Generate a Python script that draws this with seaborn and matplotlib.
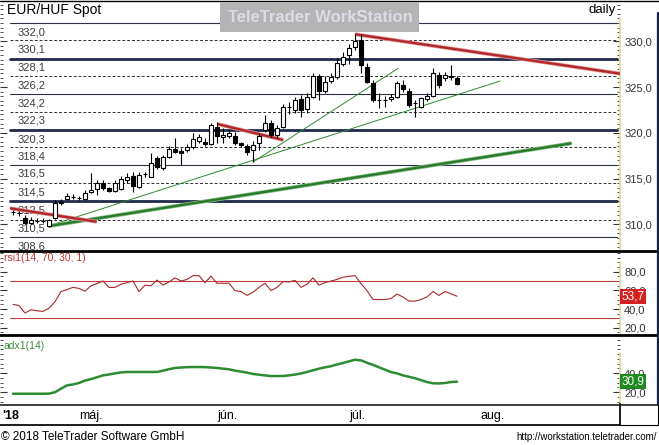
"""EUR/HUF daily chart with RSI and ADX panes, TeleTrader style"""
import numpy as np
import pandas as pd
import seaborn as sns
import matplotlib.pyplot as plt
from matplotlib.patches import Rectangle
from matplotlib.lines import Line2D
from matplotlib.ticker import MultipleLocator, FixedLocator, FuncFormatter

W, H = 659, 445

# daily candles, 16 Apr - 26 Jul 2018 (bar index = trading day)
opens = [311.32, 311.22, 310.73, 310.18, 310.36, 310.40, 309.86, 310.66, 312.40, 312.73,
         313.00, 312.86, 312.73, 313.53, 313.86, 314.51, 313.97, 313.68, 313.86, 314.84,
         315.28, 314.11, 315.47, 315.20, 317.21, 316.12, 317.39, 318.20, 318.04, 318.12,
         318.42, 319.14, 319.03, 318.78, 320.67, 319.57, 319.65, 319.65, 318.85, 318.56,
         318.12, 318.85, 320.31, 321.04, 319.76, 320.67, 322.80, 322.49, 323.66, 322.60,
         323.95, 326.24, 324.57, 325.69, 326.07, 327.49, 328.50, 329.34, 330.14, 327.22,
         325.41, 323.60, 323.58, 323.66, 323.95, 325.22, 324.57, 323.30, 322.85, 323.73,
         324.02, 326.32, 325.96, 326.13, 325.95]
highs = [311.60, 311.45, 311.00, 310.77, 310.70, 310.70, 310.60, 312.66, 312.80, 313.40,
         313.30, 313.10, 313.75, 315.60, 314.84, 314.80, 314.10, 314.80, 315.30, 315.57,
         315.70, 315.70, 315.75, 317.76, 317.50, 317.60, 318.60, 319.43, 318.30, 318.80,
         319.98, 319.90, 319.40, 321.07, 321.18, 320.52, 320.40, 320.09, 319.00, 318.80,
         319.10, 320.00, 321.95, 321.40, 320.80, 323.15, 323.40, 323.90, 324.10, 324.30,
         326.57, 326.40, 326.20, 326.50, 328.20, 328.80, 329.70, 330.77, 330.77, 327.60,
         325.77, 324.30, 324.00, 324.24, 325.69, 325.77, 324.90, 323.60, 323.95, 324.30,
         327.05, 326.64, 326.60, 327.41, 326.20]
lows = [311.05, 310.95, 309.99, 309.99, 310.10, 310.15, 309.75, 310.55, 312.10, 312.66,
        312.80, 312.60, 312.65, 313.40, 313.20, 313.80, 313.50, 313.50, 313.70, 314.50,
        313.56, 314.00, 315.20, 315.17, 316.00, 315.90, 317.20, 317.80, 316.48, 317.90,
        318.20, 318.90, 318.60, 318.67, 318.89, 318.90, 319.40, 318.70, 318.45, 317.57,
        316.84, 318.12, 320.10, 319.50, 319.40, 320.50, 322.10, 322.20, 321.73, 322.16,
        323.80, 323.58, 324.30, 325.40, 325.90, 327.30, 327.50, 329.05, 326.50, 325.44,
        323.37, 322.68, 322.80, 323.47, 323.80, 324.50, 322.80, 321.69, 322.70, 323.50,
        323.90, 324.90, 325.70, 325.80, 325.20]
closes = [311.36, 311.18, 310.18, 310.51, 310.38, 310.36, 310.44, 312.37, 312.37, 313.09,
          313.02, 312.84, 313.45, 313.75, 314.55, 313.93, 313.68, 314.51, 314.95, 315.20,
          314.19, 315.39, 315.52, 316.67, 316.30, 317.39, 318.20, 317.94, 317.83, 318.48,
          319.29, 319.57, 318.74, 320.85, 319.68, 319.76, 320.01, 318.85, 318.67, 317.93,
          318.67, 319.65, 321.04, 319.76, 320.49, 322.85, 322.83, 323.58, 322.49, 323.88,
          326.24, 324.57, 325.58, 326.13, 327.66, 328.32, 329.23, 330.03, 327.41, 325.52,
          323.58, 323.56, 323.55, 323.95, 325.41, 324.75, 323.04, 323.27, 323.77, 324.02,
          326.50, 325.22, 326.32, 326.15, 325.33]

rsi = [45.0, 43.7, 35.8, 39.2, 38.2, 37.5, 40.9, 47.8, 58.7, 60.8,
       63.2, 62.1, 59.1, 64.9, 67.3, 70.0, 63.2, 63.2, 66.6, 68.3,
       70.0, 58.7, 65.6, 64.9, 71.0, 65.6, 69.0, 73.4, 70.0, 71.7,
       75.8, 75.8, 68.3, 75.1, 67.6, 67.6, 67.6, 59.7, 58.7, 54.6,
       58.0, 63.2, 67.6, 59.7, 63.2, 69.3, 69.0, 70.7, 63.2, 66.6,
       73.4, 65.6, 68.3, 70.0, 71.7, 74.1, 75.1, 75.8, 67.3, 59.7,
       50.2, 50.2, 50.2, 51.2, 56.0, 52.9, 48.5, 48.5, 50.2, 52.9,
       58.7, 54.6, 58.7, 56.3, 53.7]
adx = [18.2, 18.2, 18.2, 18.2, 18.2, 18.2, 18.3, 19.8, 23.5, 27.0,
       28.0, 29.5, 32.0, 33.6, 35.5, 37.5, 38.5, 39.6, 40.6, 41.1,
       41.1, 41.1, 41.1, 41.1, 41.1, 42.5, 44.0, 45.3, 45.8, 46.2,
       46.3, 46.3, 46.2, 45.8, 45.3, 44.6, 43.9, 42.5, 41.5, 40.4,
       39.0, 38.2, 37.5, 36.8, 36.8, 36.9, 37.5, 38.4, 39.5, 41.1,
       42.8, 44.6, 46.0, 47.2, 49.0, 50.5, 52.3, 54.0, 53.3, 50.8,
       48.5, 46.0, 43.5, 41.0, 39.6, 37.5, 36.0, 34.5, 32.5, 30.5,
       29.2, 29.0, 29.5, 30.5, 30.9]

# horizontal price levels drawn across the chart
levels = [332.0, 330.1, 328.1, 326.2, 324.2, 322.3, 320.3, 318.4, 316.5, 314.5, 312.5, 310.5, 308.6]

# trendlines: (bar from, price from, bar to, price to)
red_lines = [(-0.5, 311.75, 13.95, 310.28), (34.05, 320.96, 45.05, 319.21), (57.0, 330.77, 101.2, 326.46)]
green_thick = [(5.9, 309.8, 93.1, 318.85)]
green_thin = [(5.8, 309.8, 81.2, 325.66), (40.0, 316.8, 64.2, 327.05)]

# first trading day of each month (bar index) and label
month_pos = [11, 34, 56, 78]
month_lbl = ['máj.', 'jún.', 'júl.', 'aug.']

rsi_bands = [70, 30]

sns.set_theme(style='white')
plt.rcParams['font.family'] = ['Liberation Sans', 'DejaVu Sans']

df = pd.DataFrame({'open': opens, 'high': highs, 'low': lows, 'close': closes,
                   'rsi': rsi, 'adx': adx})
df['bar'] = np.arange(len(df))

fig = plt.figure(figsize=(W / 100, H / 100), dpi=100)
fig.patch.set_facecolor('white')


def fbox(x0, y0, x1, y1):
    return [x0 / W, 1 - y1 / H, (x1 - x0) / W, (y1 - y0) / H]


def px_line(x0, y0, x1, y1, **kw):
    fig.add_artist(Line2D([x0 / W, x1 / W], [1 - y0 / H, 1 - y1 / H], transform=fig.transFigure, **kw))


ax = fig.add_axes(fbox(0, 1, 620, 251))
ax_rsi = fig.add_axes(fbox(0, 252, 620, 334), sharex=ax)
ax_adx = fig.add_axes(fbox(0, 335, 620, 404), sharex=ax)
ax_t = fig.add_axes(fbox(0, 404, 620, 425), sharex=ax)

fmt = FuncFormatter(lambda v, p: f'{v:.1f}'.replace('.', ','))
axis_col = '#e4d79c'
for a in (ax, ax_rsi, ax_adx):
    a.set_facecolor('white')
    for s in ('top', 'bottom', 'left'):
        a.spines[s].set_visible(False)
    a.spines['right'].set_color(axis_col)
    a.spines['right'].set_linewidth(1.2)
    a.yaxis.tick_right()
    a.tick_params(axis='y', which='both', direction='in', left=True, right=True,
                  labelleft=False, labelright=True, colors='#333333', labelsize=8, pad=3)
    a.tick_params(axis='y', which='major', length=5, width=0.8)
    a.tick_params(axis='y', which='minor', length=2, width=0.6)
    a.tick_params(axis='x', bottom=False, labelbottom=False)
    a.yaxis.set_major_formatter(fmt)
    a.grid(False)

ax.set_xlim(-13 / 6, 607 / 6)

# ---- price pane
ax.set_ylim(307.08, 334.40)
ax.yaxis.set_major_locator(FixedLocator([310, 315, 320, 325, 330]))
ax.yaxis.set_minor_locator(MultipleLocator(0.5))
ax.spines['right'].set_bounds(307.08, 332.55)

xa, xb = 10 / 620, 617 / 620
ytr = ax.get_yaxis_transform()
for i, lv in enumerate(levels):
    kind = i % 4
    if kind == 2:
        ax.axhline(lv, xa, xb, color='#1f2a4a', lw=2.0, zorder=2)
    elif kind == 0:
        ax.axhline(lv, xa, xb, color='#2a3142', lw=0.8, zorder=2)
    else:
        ax.axhline(lv, xa, xb, color='#303030', lw=0.7, ls=(0, (3, 2)), zorder=2)
    ax.text(18 / 620, lv - 1.0, f'{lv:.1f}'.replace('.', ','), transform=ytr,
            ha='left', va='center', fontsize=8, color='#3c3c3c', zorder=1)

for x0, y0, x1, y1 in green_thin:
    ax.plot([x0, x1], [y0, y1], color='#2f8a34', lw=0.7, zorder=3)
for x0, y0, x1, y1 in green_thick:
    ax.plot([x0, x1], [y0, y1], color='#8cc08c', lw=2.8, zorder=3, solid_capstyle='butt')
    ax.plot([x0, x1], [y0, y1], color='#2a7a2e', lw=1.7, zorder=3, solid_capstyle='butt')
for x0, y0, x1, y1 in red_lines:
    ax.plot([x0, x1], [y0, y1], color='#e0a0a0', lw=2.8, zorder=3, solid_capstyle='butt')
    ax.plot([x0, x1], [y0, y1], color='#b3262b', lw=1.7, zorder=3, solid_capstyle='butt')

up = df['close'] >= df['open']
ax.vlines(df['bar'], df['low'], df['high'], color='black', lw=0.8, zorder=4)
ax.bar(df['bar'], (df['close'] - df['open']).abs(), bottom=df[['open', 'close']].min(axis=1),
       width=0.7, color=np.where(up, 'white', 'black'), edgecolor='black', linewidth=0.8, zorder=5)

# ---- RSI pane
ax_rsi.set_ylim(13.25, 101.1)
ax_rsi.yaxis.set_major_locator(FixedLocator([20, 40, 60, 80]))
ax_rsi.yaxis.set_minor_locator(MultipleLocator(5))
ax_rsi.spines['right'].set_bounds(13.25, 90.4)
for b in rsi_bands:
    ax_rsi.axhline(b, xa, xb, color='#c43c3c', lw=0.8)
sns.lineplot(data=df, x='bar', y='rsi', ax=ax_rsi, color='#a8282c', lw=0.8)
ax_rsi.set_xlabel('')
ax_rsi.set_ylabel('')
ax_rsi.text(1.003, rsi[-1], f'{rsi[-1]:.1f}'.replace('.', ','), transform=ax_rsi.get_yaxis_transform(),
            ha='left', va='center', fontsize=8.5, color='white', zorder=10,
            bbox=dict(boxstyle='square,pad=0.12', fc='#d42020', ec='none'))

# ---- ADX pane
ax_adx.set_ylim(7.4, 80.0)
ax_adx.yaxis.set_major_locator(FixedLocator([20, 40]))
ax_adx.yaxis.set_minor_locator(MultipleLocator(5))
ax_adx.spines['right'].set_bounds(7.4, 61.0)
sns.lineplot(data=df, x='bar', y='adx', ax=ax_adx, color='#2e8b34', lw=1.8)
ax_adx.set_xlabel('')
ax_adx.set_ylabel('')
ax_adx.text(1.003, adx[-1], f'{adx[-1]:.1f}'.replace('.', ','), transform=ax_adx.get_yaxis_transform(),
            ha='left', va='center', fontsize=8.5, color='white', zorder=10,
            bbox=dict(boxstyle='square,pad=0.12', fc='#1f8a22', ec='none'))

# ---- time strip
ax_t.set_facecolor('white')
ax_t.set_yticks([])
ax_t.tick_params(axis='x', bottom=False, labelbottom=False)
for s in ('top', 'left'):
    ax_t.spines[s].set_visible(False)
ax_t.spines['bottom'].set_color('black')
ax_t.spines['right'].set_color('black')
xtr = ax_t.get_xaxis_transform()
for p, lbl in zip(month_pos, month_lbl):
    ax_t.text(p, 0.45, lbl, transform=xtr, ha='left', va='center', fontsize=9, color='black')
ax_t.text(2 / 620, 0.45, "'18", transform=ax_t.transAxes, ha='left', va='center',
          fontsize=9, fontweight='bold', color='black')

# ---- frame and decorations
px_line(0, 0.5, 659, 0.5, color='black', lw=1.0)
px_line(0, 251.5, 658, 251.5, color='black', lw=2.0)
px_line(0, 334.5, 658, 334.5, color='black', lw=2.0)
px_line(0, 404.5, 658, 404.5, color='#202020', lw=1.2)
px_line(657.5, 13, 657.5, 404, color='#1b2140', lw=1.6)
px_line(657.5, 404, 657.5, 425, color='black', lw=0.8)
px_line(620, 425, 658, 425, color='black', lw=0.8)

fig.text(7 / W, 1 - 10 / H, 'EUR/HUF Spot', ha='left', va='center', fontsize=10, color='black')
fig.text(616 / W, 1 - 10 / H, 'daily', ha='right', va='center', fontsize=9.5, color='black')
fig.text(4 / W, 1 - 258 / H, 'rsi1(14, 70, 30, 1)', ha='left', va='center', fontsize=7.5, color='#c03434')
fig.text(4 / W, 1 - 346 / H, 'adx1(14)', ha='left', va='center', fontsize=7.5, color='#3a8a3a')

fig.add_artist(Rectangle((220 / W, 1 - 32 / H), 199 / W, 30 / H, transform=fig.transFigure,
                         facecolor='#b4b4b4', edgecolor='none', zorder=20))
fig.text(320 / W, 1 - 17 / H, 'TeleTrader WorkStation', ha='center', va='center',
         fontsize=12, fontweight='bold', color='#dcdce6', zorder=21)

fig.text(1 / W, 1 - 437 / H, '© 2018 TeleTrader Software GmbH', ha='left', va='center', fontsize=8.5, color='black')
fig.text(657 / W, 1 - 437 / H, 'http://workstation.teletrader.com/', ha='right', va='center', fontsize=7, color='black')

fig.savefig('out.png', dpi=100, facecolor='white')
plt.close(fig)
